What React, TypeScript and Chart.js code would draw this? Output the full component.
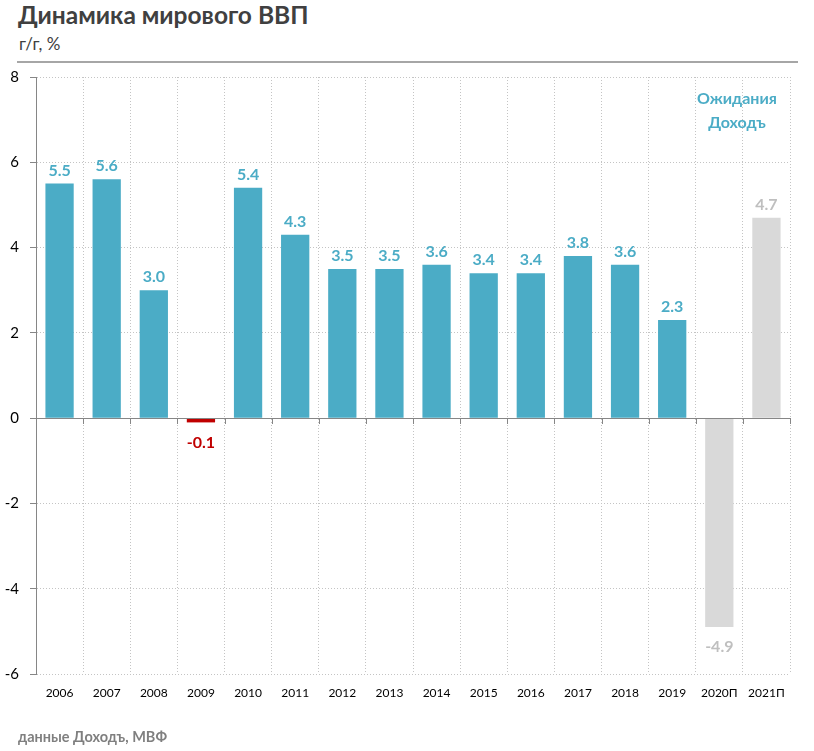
import React, { useEffect, useRef } from "react";
import { Chart, registerables } from "chart.js";

Chart.register(...registerables);

const years = ["2006", "2007", "2008", "2009", "2010", "2011", "2012", "2013", "2014", "2015", "2016", "2017", "2018", "2019", "2020П", "2021П"];
const growth = [5.5, 5.6, 3.0, -0.1, 5.4, 4.3, 3.5, 3.5, 3.6, 3.4, 3.4, 3.8, 3.6, 2.3, -4.9, 4.7];
const isForecast = [false, false, false, false, false, false, false, false, false, false, false, false, false, false, true, true];
const yTicks = [-6, -4, -2, 0, 2, 4, 6, 8];

const TEAL = "#4bacc6";
const RED = "#c00000";
const GREY_BAR = "#d9d9d9";
const GREY_LABEL = "#bfbfbf";
const FONT = "Lato, 'Open Sans', sans-serif";

const barColor = (i: number) => (isForecast[i] ? GREY_BAR : growth[i] < 0 ? RED : TEAL);
const labelColor = (i: number) => (isForecast[i] ? GREY_LABEL : growth[i] < 0 ? RED : TEAL);

const overlay = {
  id: "overlay",
  afterDatasetsDraw(chart: any) {
    const { ctx, chartArea, scales } = chart;
    const y0 = scales.y.getPixelForValue(0);
    ctx.save();
    ctx.setLineDash([]);
    ctx.strokeStyle = "#868686";
    ctx.lineWidth = 1;
    ctx.beginPath();
    ctx.moveTo(chartArea.left, Math.round(y0) + 0.5);
    ctx.lineTo(chartArea.right, Math.round(y0) + 0.5);
    const n = years.length;
    const step = (chartArea.right - chartArea.left) / n;
    for (let i = 1; i <= n; i++) {
      const x = Math.round(chartArea.left + i * step) + 0.5;
      ctx.moveTo(x, Math.round(y0));
      ctx.lineTo(x, Math.round(y0) + 6);
    }
    ctx.stroke();

    const meta = chart.getDatasetMeta(0);
    ctx.font = `bold 16px ${FONT}`;
    ctx.textAlign = "center";
    meta.data.forEach((bar: any, i: number) => {
      const v = growth[i];
      ctx.fillStyle = labelColor(i);
      if (v >= 0) {
        ctx.textBaseline = "bottom";
        ctx.fillText(v.toFixed(1), bar.x, bar.y - 5);
      } else {
        ctx.textBaseline = "top";
        ctx.fillText(v.toFixed(1), bar.x, bar.y + 12);
      }
    });

    ctx.fillStyle = TEAL;
    ctx.textBaseline = "middle";
    const ax = chartArea.right - 53;
    ctx.fillText("Ожидания", ax, chartArea.top + 22);
    ctx.fillText("Доходъ", ax, chartArea.top + 46);
    ctx.restore();
  },
};

export default function App() {
  const ref = useRef<HTMLCanvasElement | null>(null);

  useEffect(() => {
    if (!ref.current) return;
    const chart = new Chart(ref.current, {
      type: "bar",
      data: {
        labels: years,
        datasets: [
          {
            data: growth,
            backgroundColor: growth.map((_, i) => barColor(i)),
            barPercentage: 0.6,
            categoryPercentage: 1,
          },
        ],
      },
      options: {
        animation: false,
        responsive: false,
        maintainAspectRatio: false,
        layout: { padding: { left: 0, right: 24, top: 77, bottom: 47 } },
        plugins: { legend: { display: false }, tooltip: { enabled: false } },
        scales: {
          x: {
            offset: true,
            grid: {
              offset: true,
              display: true,
              drawTicks: false,
              color: "#c4c4c4",
              lineWidth: 1,
            },
            border: { display: false, dash: [1, 2] },
            ticks: {
              color: "#000000",
              font: { family: FONT, size: 12 },
              padding: 12,
              maxRotation: 0,
            },
            afterFit: (s: any) => {
              s.height = 30;
            },
          },
          y: {
            min: -6,
            max: 8,
            afterBuildTicks: (s: any) => {
              s.ticks = yTicks.map((v) => ({ value: v }));
            },
            grid: {
              color: "#c4c4c4",
              lineWidth: 1,
              drawTicks: true,
              tickLength: 6,
              tickColor: "#868686",
              tickBorderDash: [],
            },
            border: { display: true, color: "#868686", width: 1, dash: [1, 2] },
            ticks: {
              color: "#000000",
              font: { family: FONT, size: 15 },
              padding: 11,
              callback: (v: any) => String(v),
            },
            afterFit: (s: any) => {
              s.width = 36;
            },
          },
        },
      },
      plugins: [overlay],
    });
    return () => chart.destroy();
  }, []);

  return (
    <div style={{ position: "fixed", left: 0, top: 0, width: 814, height: 751, background: "#fff", fontFamily: FONT }}>
      <div style={{ position: "absolute", left: 18, top: 0, fontSize: 24.5, fontWeight: 700, color: "#404040", whiteSpace: "nowrap" }}>
        Динамика мирового ВВП
      </div>
      <div style={{ position: "absolute", left: 19, top: 33, fontSize: 17, color: "#404040", whiteSpace: "nowrap" }}>
        г/г, %
      </div>
      <div style={{ position: "absolute", left: 17, top: 61, width: 781, height: 2, background: "#a6a6a6" }} />
      <canvas ref={ref} width={814} height={751} style={{ position: "absolute", left: 0, top: 0 }} />
      <div style={{ position: "absolute", left: 18, top: 728, fontSize: 14.5, fontWeight: 700, color: "#7f7f7f", whiteSpace: "nowrap" }}>
        данные Доходъ, МВФ
      </div>
    </div>
  );
}
